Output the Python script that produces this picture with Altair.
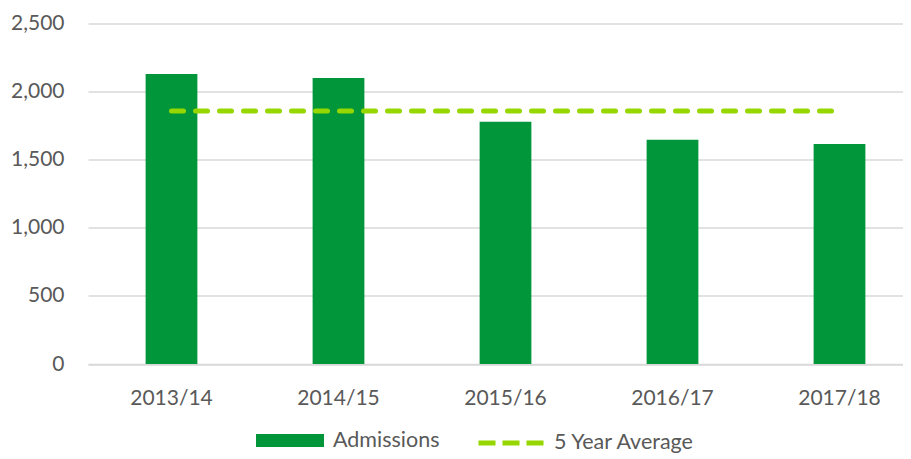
import altair as alt
import pandas as pd

years = ["2013/14", "2014/15", "2015/16", "2016/17", "2017/18"]
admissions = [2130, 2100, 1778, 1646, 1616]
five_year_avg = [1858, 1858, 1858, 1858, 1858]
y_ticks = [0, 500, 1000, 1500, 2000, 2500]

bar_color = "#009639"
line_color = "#97D700"
text_color = "#595959"
grid_color = "#D9D9D9"
font = "Lato"

df = pd.DataFrame({
    "year": years,
    "admissions": admissions,
    "avg": five_year_avg,
    "s1": ["Admissions"] * len(years),
    "s2": ["5 Year Average"] * len(years),
})

x_scale = alt.Scale(paddingInner=0.69, paddingOuter=0.345, range=[0, 835])
y_scale = alt.Scale(domain=[0, 2500], nice=False)

x_axis = alt.Axis(
    labelAngle=0, labelFont=font, labelFontSize=21, labelColor=text_color,
    ticks=False, domain=True, domainColor=grid_color, domainWidth=1.5,
    labelPadding=23, grid=False,
)
y_axis = alt.Axis(
    values=y_ticks, format=",d", labelFont=font, labelFontSize=21,
    labelColor=text_color, ticks=False, domain=False, grid=True,
    gridColor=grid_color, gridWidth=1.5, labelPadding=24,
)

bars = alt.Chart(df).mark_bar(strokeWidth=0).encode(
    x=alt.X("year:N", sort=years, title=None, scale=x_scale, axis=x_axis),
    y=alt.Y("admissions:Q", title=None, scale=y_scale, axis=y_axis),
    fill=alt.Fill(
        "s1:N",
        scale=alt.Scale(domain=["Admissions"], range=[bar_color]),
        legend=alt.Legend(
            title=None, orient="none", legendX=168, legendY=383,
            symbolType="M-1,-0.19H1V0.19H-1Z", symbolSize=4624,
            symbolStrokeWidth=0, labelFont=font, labelFontSize=21.5,
            labelColor=text_color, labelOffset=9, padding=0, labelLimit=300,
        ),
    ),
)

line = alt.Chart(df).mark_line(
    strokeWidth=5, strokeDash=[12, 12], strokeCap="round"
).encode(
    x=alt.X("year:N", sort=years, title=None, scale=x_scale, axis=x_axis),
    y=alt.Y("avg:Q", title=None, scale=y_scale, axis=y_axis),
    stroke=alt.Stroke(
        "s2:N",
        scale=alt.Scale(domain=["5 Year Average"], range=[line_color]),
        legend=alt.Legend(
            title=None, orient="none", legendX=388, legendY=384.5,
            symbolType="stroke", symbolSize=4225, symbolStrokeWidth=5,
            symbolDash=[17, 7], labelFont=font, labelFontSize=21.5,
            labelColor=text_color, labelOffset=8, padding=0, labelLimit=300,
        ),
    ),
)

chart = alt.layer(bars, line).properties(
    width=815,
    height=340.5,
    background="white",
    autosize=alt.AutoSizeParams(type="none"),
    padding={"left": 80, "top": 15.5, "right": 0, "bottom": 89},
).configure_view(strokeWidth=0, stroke="transparent")

chart.save("out.html", embed_options={"renderer": "svg", "actions": False})
